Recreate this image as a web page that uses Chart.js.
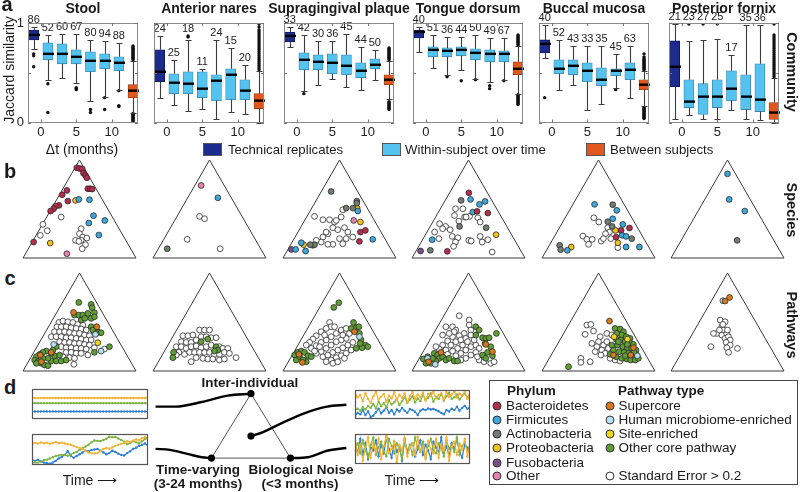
<!DOCTYPE html>
<html><head><meta charset="utf-8">
<script src="https://cdn.jsdelivr.net/npm/chart.js@4.4.1/dist/chart.umd.min.js"></script>
<style>
html,body{margin:0;padding:0;background:#fff;}
body{width:800px;height:492px;position:relative;overflow:hidden;font-family:"Liberation Sans",Arial,Helvetica,sans-serif;color:#1a1a1a;}
canvas{position:absolute;}
.t{position:absolute;white-space:nowrap;line-height:1.15;}
.c{transform:translate(-50%,-50%);}
.lm{transform:translate(0,-50%);}
.b{font-weight:bold;}
.sq{position:absolute;border:1px solid #555;box-sizing:border-box;}
.dot{position:absolute;width:9px;height:9px;border-radius:50%;border:1px solid #333;box-sizing:border-box;transform:translate(-50%,-50%);}
.legbox{position:absolute;border:1.5px solid #444;box-sizing:border-box;}
</style></head><body>
<script>
// ---------------- DATA: panel a (box plots) ----------------
const sites = ['Stool','Anterior nares','Supragingival plaque','Tongue dorsum','Buccal mucosa','Posterior fornix'];
const boxX = [-1,1,3,5,7,9,11,13];          // Δt position of each box (technical, 1..11 months, between)
const xTickVals = [0,5,10];
const yTickVals = [0,1];
// [whiskerLow, q1, median, q3, whiskerHigh]
const stoolBox = [[0.74,0.83,0.88,0.93,0.96],[0.43,0.63,0.69,0.80,0.88],[0.45,0.59,0.69,0.79,0.89],[0.40,0.59,0.66,0.73,0.89],[0.22,0.51,0.62,0.71,0.83],[0.26,0.54,0.62,0.69,0.82],[0.33,0.52,0.60,0.66,0.80],[0.10,0.25,0.32,0.38,0.62]];
const naresBox = [[0.25,0.41,0.51,0.73,0.87],[0.18,0.29,0.40,0.49,0.63],[0.12,0.29,0.39,0.51,0.83],[0.14,0.25,0.34,0.51,0.54],[0.04,0.22,0.42,0.48,0.83],[0.11,0.23,0.48,0.54,0.75],[0.09,0.23,0.32,0.43,0.58],[0.00,0.14,0.22,0.29,0.52]];
const supraBox = [[0.76,0.81,0.87,0.91,0.96],[0.32,0.53,0.63,0.70,0.88],[0.38,0.53,0.61,0.68,0.82],[0.44,0.49,0.60,0.69,0.82],[0.36,0.48,0.57,0.68,0.89],[0.33,0.45,0.52,0.60,0.76],[0.43,0.54,0.58,0.64,0.73],[0.24,0.38,0.43,0.48,0.62]];
const tongueBox = [[0.71,0.85,0.91,0.93,0.96],[0.55,0.66,0.73,0.76,0.88],[0.48,0.66,0.72,0.75,0.86],[0.53,0.67,0.73,0.76,0.86],[0.44,0.63,0.70,0.74,0.88],[0.41,0.61,0.69,0.73,0.85],[0.43,0.61,0.69,0.72,0.85],[0.29,0.48,0.54,0.61,0.77]];
const buccalBox = [[0.65,0.70,0.79,0.83,0.98],[0.33,0.49,0.54,0.63,0.83],[0.38,0.48,0.57,0.63,0.77],[0.13,0.41,0.52,0.60,0.77],[0.19,0.37,0.43,0.55,0.77],[0.35,0.47,0.52,0.54,0.69],[0.25,0.43,0.53,0.60,0.77],[0.17,0.33,0.38,0.43,0.52]];
const fornixBox = [[0.04,0.36,0.56,0.82,0.99],[0.08,0.15,0.21,0.43,0.82],[0.04,0.08,0.26,0.39,0.83],[0.04,0.15,0.26,0.43,0.84],[0.13,0.22,0.34,0.52,0.68],[0.04,0.13,0.26,0.48,0.98],[0.03,0.11,0.23,0.59,0.98],[0.00,0.03,0.10,0.20,0.45]];
// number of subjects per box
const stoolN = [86,52,60,67,80,94,88];
const naresN = [24,25,18,11,24,15,20];
const supraN = [33,42,30,36,45,44,50];
const tongueN = [40,51,36,44,50,49,67];
const buccalN = [40,52,43,33,35,45,63];
const fornixN = [21,23,27,25,17,35,36];
// outliers [Δt, similarity]
const stoolOut = [[-1,0.69],[-1,0.67],[-1,0.56],[1,0.39],[1,0.10],[5,0.35],[5,0.34],[5,0.33],[7,0.13],[7,0.10],[9,0.25],[9,0.13],[11,0.32],[11,0.17],[11,0.16]];
const stoolBetweenOut = [0.63,0.64,0.65,0.66,0.67,0.68,0.69,0.70,0.71,0.72,0.73,0.74,0.75,0.76,0.77,0.01,0.02,0.03,0.04,0.05,0.06,0.07,0.08,0.09];
const naresOut = [[3,0.86],[3,0.87]];
const naresBetweenOut = [0.53,0.55,0.57,0.59,0.61,0.63,0.65,0.67,0.69,0.71,0.73,0.75,0.77,0.79,0.81,0.83,0.85,0.87,0.89,0.91,0.93,0.96,0.99];
const supraOut = [[1,0.29]];
const supraBetweenOut = [0.63,0.64,0.65,0.66,0.67,0.68,0.69,0.70,0.71,0.72,0.73,0.74,0.75,0.13,0.14,0.15,0.16,0.17,0.18,0.19,0.20,0.21];
const tongueOut = [[3,0.46],[5,0.42],[7,0.43],[9,0.37],[9,0.34],[11,0.42]];
const tongueBetweenOut = [0.78,0.79,0.80,0.81,0.82,0.83,0.84,0.85,0.86,0.87,0.88,0.18,0.19,0.20,0.21,0.22,0.23,0.24,0.25,0.26,0.27,0.28];
const buccalOut = [[-1,0.25],[9,0.33]];
const buccalBetweenOut = [0.53,0.54,0.55,0.56,0.57,0.58,0.59,0.60,0.61,0.62,0.63,0.64,0.66,0.69,0.04,0.05,0.06,0.07,0.08,0.09,0.10,0.11,0.12,0.13,0.14,0.15];
const fornixOut = [[1,0.99],[3,0.99],[5,0.99]];
const fornixBetweenOut = [0.46,0.48,0.50,0.52,0.54,0.56,0.58,0.60,0.62,0.64,0.66,0.68,0.70,0.72,0.74,0.76,0.78,0.80,0.82,0.84,0.86,0.88,0.99];

// ---------------- DATA: panels b & c (ternary positions, 0-100 x, 0-86.6 y) ----------------
const spStool_Bacteroidetes=[[47.6,79.7],[50,79.1],[52.4,78.8],[53.5,75],[55.3,72.9],[56.5,70.9],[57.4,61.2],[59.4,61.2],[61.2,60.9],[38.8,59.7],[34.7,55.9],[39.7,50.3],[31.8,46.5],[28.8,45.9],[27.1,43.5],[24.4,41.5],[9.4,14.1]];
const spStool_Firmicutes=[[49.4,51.8],[58.8,51.5],[62.4,37.4],[58.2,30.9],[72.4,33.2],[67.1,20.3]];
const spStool_Proteobacteria=[[46.5,50.9],[24.1,13.2]];
const spStool_Other=[[38.8,3.8]];
const spStool_SE=[[17.6,29.7],[21.5,24.1],[15.3,20],[33.8,36.2],[51.5,25.9],[50,21.5],[52.9,18.5],[56.5,17.6],[46.5,15.6],[51.5,15.6],[55.3,11.8],[52.4,8.2],[49.4,14.7]];

const spNares_Other=[[42.6,64.1]];
const spNares_Firmicutes=[[57.4,53.2]];
const spNares_Actinobacteria=[[12.6,8.2]];
const spNares_SE=[[41.2,36.8],[45.6,34.7],[30.3,16.5],[59.4,8.2]];

const spSupra_Actinobacteria=[[42.6,58.8],[65.3,50.3],[65.3,48.5],[55.9,44.1],[61.8,44.1],[26.5,11.2],[27.9,11.8],[24.1,11.8]];
const spSupra_Firmicutes=[[66.2,41.5],[79.4,16.5],[16.2,13.5],[11.2,7.6],[20,6.2]];
const spSupra_Proteobacteria=[[65.6,44.1],[68.5,31.8],[18.2,11.8]];
const spSupra_Other=[[62.6,33.2]];
const spSupra_Bacteroidetes=[[68.5,22.9],[72.9,24.4],[67.6,14.7]];
const spSupra_Fusobacteria=[[7.4,7.6]];
const spSupra_SE=[[27.9,36.8],[35.3,33.8],[41.2,33.8],[52.9,42.6],[51.5,36.2],[45.6,31.8],[44.1,26.8],[48.5,25],[54.4,26.8],[57.4,22.9],[50,17.1],[55.9,17.1],[35.3,18.5],[39.7,21.5],[33.8,14.1],[44.1,12.1],[39.7,12.1],[52.9,12.6],[61.8,18.5],[29.4,15.6],[47.1,33.2],[38.2,22.9]];

const spTongue_Bacteroidetes=[[50.3,57.6],[57.6,41.2],[67.1,39.7],[31.2,5.9]];
const spTongue_Firmicutes=[[51.8,51.8],[59.7,47.4],[64.7,50],[53.8,40.6],[17.9,16.2]];
const spTongue_Actinobacteria=[[43.5,50.9],[42.1,27.9],[65.6,26.8],[16.2,6.8]];
const spTongue_Proteobacteria=[[74.4,20.6]];
const spTongue_Fusobacteria=[[7.6,6.2]];
const spTongue_SE=[[38.5,43.5],[45,43.5],[37.6,37.6],[46.5,36.2],[50.9,36.8],[58.2,35.6],[60.3,31.8],[24.4,30.3],[29.7,27.9],[33.8,25],[27.1,25.9],[20,22.9],[23.8,17.1],[35.6,19.1],[40.6,17.9],[38.5,14.1],[36.8,10.3],[50.3,15.6],[52.4,15],[60.3,19.1],[62.1,14.1],[67.1,16.2],[70.9,5.3],[47.9,36.2],[41.5,32.6]];

const spBuccal_Firmicutes=[[46.5,47.4],[66.2,42.1],[62.6,34.7],[71.5,29.7],[70.9,20],[74.4,19.1],[74.4,9.7],[86.2,9.7],[22.4,6.8]];
const spBuccal_Actinobacteria=[[62.6,47.1],[62.1,27.9],[79.4,17.1],[15.6,11.2],[16.5,7.4],[58.2,32.1]];
const spBuccal_Bacteroidetes=[[77.4,26.5],[70,24.4],[65.6,18.5]];
const spBuccal_Proteobacteria=[[65,24.4],[67.1,13.5],[25.9,9.7]];
const spBuccal_SE=[[45.9,35.6],[50.3,31.8],[58.2,26.8],[59.7,22.9],[56.2,21.5],[36.2,19.4],[39.7,16.5],[44.4,16.5],[41.2,12.1],[52.4,15],[54.4,17.1],[60.9,17.1],[67.1,9.1]];

const spFornix_Firmicutes=[[50,74.4],[51.5,51.8],[65.3,41.5]];
const spFornix_Actinobacteria=[[58.5,15.6]];

const pwStool_Core=[[49.4,60.6],[60.3,58.8],[61.2,55.9],[45.6,49.4],[49.4,49.4],[52.9,49.4],[57.4,50.9],[63.2,51.5],[51.5,45],[54.7,46.5],[60.3,46.5],[63.2,47.9],[60.3,39.1],[61.8,36.2],[66.2,34.7],[69.1,33.8],[64.7,33.2],[76.5,21.5],[63.2,16.5],[29.4,21.5],[26.5,18.5],[20.6,17.6],[17.6,16.5],[14.7,14.7],[11.8,12.6],[10.3,9.7],[13.2,8.2],[16.2,6.8],[19.1,5.3],[22.1,4.7],[25,8.8],[29.4,8.8],[33.8,8.8],[38.2,9.7],[22.1,11.2],[27.9,13.5],[32.4,14.1],[17.6,11.2],[11.8,6.8],[25,15.6]];
const pwStool_Supercore=[[44.7,51.8],[65.3,39.1],[15.3,14.1],[16.2,8.2],[25,16.5]];
const pwStool_Human=[[27.1,23.5],[69.1,17.6],[64.1,32.4]];
const pwStool_Site=[[66.2,25]];
const pwStool_SE=[[31.8,42.9],[35.3,44.1],[39.7,43.5],[44.1,42.9],[48.5,41.2],[52.9,40.6],[30,39.1],[33.8,39.1],[38.2,39.1],[42.6,38.2],[47.1,37.6],[51.5,37.1],[55.9,36.2],[27.9,34.7],[32.4,34.7],[36.8,34.7],[41.2,34.1],[45.6,33.2],[50,33.2],[54.4,31.8],[58.8,31.2],[25,30.3],[29.4,30.3],[33.8,30.3],[38.2,29.4],[42.6,29.4],[47.1,28.8],[51.5,28.2],[55.9,27.4],[60.3,27.4],[32.4,25.9],[36.8,25.3],[41.2,25.3],[45.6,24.4],[50,24.4],[54.4,23.5],[58.8,22.9],[33.8,21.5],[38.2,20.6],[42.6,20.6],[47.1,20],[51.5,20],[55.9,19.4],[38.2,16.5],[42.6,16.5],[47.1,15.6],[51.5,15.6],[35.3,12.6],[41.2,11.8],[45.6,11.2],[57.4,14.1],[63.2,20.6],[45,5.9],[72.1,19.4]];

const pwNares_Core=[[48.5,28.2],[55.9,21.5],[57.4,18.5],[18.2,16.5],[17.6,11.8],[54.4,17.6],[42.6,25.9]];
const pwNares_SE=[[26.5,31.2],[30.9,31.2],[35.3,31.8],[41.2,36.2],[45.6,36.2],[50,36.2],[25,25.9],[29.4,25.3],[33.8,25.3],[38.2,27.4],[42.6,30.3],[47.1,30.3],[51.5,29.4],[55.9,29.4],[20.6,21.5],[25,21.5],[29.4,20],[33.8,21.5],[38.2,22.1],[42.6,20.6],[47.1,21.5],[51.5,22.9],[58.8,21.5],[61.8,20],[66.2,20],[22.9,16.5],[27.9,14.7],[32.4,16.5],[36.8,16.5],[41.2,16.5],[45.6,16.5],[50,16.5],[54.4,14.7],[58.8,14.7],[63.2,16.5],[67.6,15.6],[44.1,11.2],[48.5,10.6],[52.9,10.6],[58.8,9.7],[63.2,10.6],[73.5,11.8],[33.8,8.2],[20.6,14.1],[38.2,11.8]];

const pwSupra_Core=[[45,56.2],[49.4,60.3],[62.4,42.9],[64.7,38.2],[67.1,39.1],[67.6,33.2],[69.1,27.4],[72.9,22.9],[75,21.5],[70,20.6],[64.7,20],[10.3,14.1],[13.2,16.5],[16.2,17.6],[19.1,16.5],[22.1,13.5],[11.8,9.7],[14.7,12.6],[20.6,8.2],[17.6,9.7],[25,12.6],[68.2,24.4],[60.3,37.6]];
const pwSupra_Supercore=[[63.2,34.7],[14.1,14.7],[17.1,7.6]];
const pwSupra_Human=[[67.6,30.3]];
const pwSupra_SE=[[41.2,42.9],[42.6,39.1],[38.2,37.6],[33.8,34.7],[29.4,31.2],[26.5,28.2],[23.5,25.3],[20.6,22.9],[25,20],[29.4,22.4],[33.8,25.3],[38.2,27.4],[42.6,30.3],[47.1,33.2],[51.5,36.2],[55.9,37.6],[58.8,33.2],[55.9,28.8],[51.5,27.4],[47.1,25.9],[42.6,22.9],[38.2,20],[33.8,17.1],[29.4,15.6],[35.3,12.6],[39.7,14.1],[44.1,16.5],[48.5,18.5],[52.9,20.6],[57.4,22.9],[61.8,25.3],[60.3,18.5],[55.9,15.6],[51.5,13.5],[47.1,11.8],[42.6,9.7],[38.2,8.2],[44.1,6.8],[48.5,8.2],[54.4,11.2],[32.4,21.5],[27.9,17.6],[36.8,31.8],[45.6,39.1],[52.9,31.8]];

const pwTongue_Core=[[56.5,39.1],[59.4,36.2],[56.5,31.8],[62.4,29.4],[65.3,28.8],[68.2,29.4],[74.7,33.2],[64.7,24.4],[69.7,21.5],[66.8,16.5],[62.4,14.1],[65.3,11.2],[71.2,13.5],[10,10.6],[13.8,12.6],[15.3,8.8],[19.7,15.6],[22.6,14.1],[24.1,11.2],[27.1,12.6],[30,9.7],[32.9,11.2],[37.4,8.8],[40.3,8.8],[12.4,6.8],[16.8,6.8],[21.2,8.8],[18.2,11.2]];
const pwTongue_Supercore=[[65.3,23.5],[14.7,8.2],[25.6,16.5],[71.2,17.1]];
const pwTongue_Human=[[20.6,5.9],[13.8,11.2]];
const pwTongue_SE=[[41.8,48.8],[30,39.1],[35.9,39.1],[38.8,36.2],[50.6,45],[50.6,40.6],[52.1,36.2],[46.2,33.2],[41.8,31.2],[35.9,30.3],[31.5,26.5],[27.1,22.9],[24.1,19.4],[21.2,21.5],[30,18.5],[34.4,22.9],[38.8,25.9],[43.2,27.4],[47.6,28.8],[52.1,31.8],[44.7,22.9],[40.3,20],[35.9,17.6],[31.5,14.7],[47.6,18.5],[43.2,15.6],[38.8,13.5],[52.1,21.5],[56.5,22.9],[59.4,20],[56.5,16.5],[52.1,14.1],[47.6,11.2],[43.2,9.7],[59.4,9.7],[63.8,8.2],[69.7,6.8],[72.6,8.2],[57.9,12.6],[49.1,25.9],[55,27.4],[37.4,34.7],[32.9,33.2],[27.1,31.8]];

const pwBuccal_Core=[[64.7,37.6],[69.1,37.1],[72.1,34.7],[66.2,33.2],[70.6,31.8],[74.4,30.3],[77.9,28.8],[65.6,28.2],[69.7,27.4],[73.5,25.9],[77.4,25.3],[80.9,23.5],[66.8,22.9],[71.5,21.5],[75.6,20.6],[79.4,20],[83.2,18.5],[63.2,18.5],[68.5,17.1],[72.6,16.5],[76.5,15.6],[80.3,14.7],[83.8,14.1],[65.6,12.6],[70.6,11.2],[75,10.6],[78.5,9.7],[82.4,9.7],[85.3,11.2],[73.5,13.5],[61.8,22.9],[67.6,25.9],[75.6,23.5],[81.5,16.5],[60.3,14.7],[23.5,3.8]];
const pwBuccal_Supercore=[[59.7,44.1],[63.2,14.1],[80.9,20.6],[78.5,14.1]];
const pwBuccal_Site=[[63.8,30.3],[75.6,28.2]];
const pwBuccal_Human=[[84.4,13.5]];
const pwBuccal_SE=[[39.7,40.6],[43.2,41.2],[38.2,32.4],[45.6,35.3],[44.1,24.4],[51.5,30.3],[57.4,33.2],[61.8,31.8],[50,25.9],[54.4,22.9],[58.8,20],[48.5,21.5],[52.9,18.5],[55.9,15.6],[60.3,11.2],[64.7,9.7],[69.1,8.8],[57.4,25.9],[47.1,17.1],[34.4,11.2],[34.4,7.6],[42.6,8.2],[52.1,14.1]];

const pwFornix_Supercore=[[47.9,61.8],[51.8,65]];
const pwFornix_Human=[[45.9,62.1]];
const pwFornix_SE=[[43.5,45],[47.9,43.5],[45,39.1],[46.5,36.2],[40.6,33.2],[45,31.8],[49.4,33.2],[37.6,33.2],[47.9,28.8],[50.9,30.3],[52.4,27.4],[48.8,25.3],[52.4,22.9],[49.4,20.6],[50.9,16.5],[35.3,21.5],[58.8,20],[45.9,41.2],[42.9,36.2],[50,36.2]];

// ---------------- DATA: panel d (illustrative time series, 0-1) ----------------
const stableOrange=[0.71,0.71,0.71,0.71,0.71,0.71,0.71,0.71,0.71,0.71,0.71,0.71,0.71,0.71,0.71,0.71,0.71,0.71,0.71,0.71,0.71,0.71,0.71,0.71,0.71,0.71,0.71,0.71,0.71,0.71,0.71,0.71,0.71,0.71,0.71,0.71,0.71,0.71,0.71,0.71];
const stableGreen=[0.53,0.53,0.53,0.53,0.53,0.53,0.53,0.53,0.53,0.53,0.53,0.53,0.53,0.53,0.53,0.53,0.53,0.53,0.53,0.53,0.53,0.53,0.53,0.53,0.53,0.53,0.53,0.53,0.53,0.53,0.53,0.53,0.53,0.53,0.53,0.53,0.53,0.53,0.53,0.53];
const stableBlue=[0.24,0.24,0.24,0.24,0.24,0.24,0.24,0.24,0.24,0.24,0.24,0.24,0.24,0.24,0.24,0.24,0.24,0.24,0.24,0.24,0.24,0.24,0.24,0.24,0.24,0.24,0.24,0.24,0.24,0.24,0.24,0.24,0.24,0.24,0.24,0.24,0.24,0.24,0.24,0.24];
const driftOrange=[0.68,0.72,0.70,0.74,0.71,0.73,0.69,0.72,0.75,0.71,0.73,0.70,0.68,0.66,0.62,0.58,0.55,0.52,0.45,0.40,0.38,0.37,0.38,0.45,0.52,0.55,0.53,0.57,0.62,0.66,0.69,0.72,0.78,0.75,0.80,0.84,0.80,0.88,0.92,0.86];
const driftGreen=[0.05,0.07,0.06,0.10,0.14,0.16,0.20,0.24,0.28,0.30,0.32,0.31,0.29,0.33,0.38,0.42,0.48,0.55,0.60,0.66,0.74,0.80,0.79,0.78,0.82,0.86,0.93,0.91,0.92,0.87,0.82,0.76,0.68,0.72,0.78,0.74,0.70,0.78,0.85,0.88];
const driftBlue=[0.15,0.12,0.16,0.10,0.06,0.04,0.02,0.06,0.12,0.20,0.25,0.32,0.44,0.30,0.22,0.28,0.34,0.40,0.46,0.44,0.48,0.50,0.52,0.46,0.40,0.34,0.38,0.46,0.42,0.36,0.32,0.30,0.38,0.44,0.52,0.56,0.62,0.66,0.70,0.62];
const mixOrange=[0.92,0.75,0.85,0.62,0.90,0.70,0.55,0.80,0.95,0.68,0.78,0.88,0.60,0.82,0.72,0.93,0.66,0.85,0.74,0.90,0.58,0.80,0.95,0.70,0.86,0.76,0.92,0.64,0.88,0.80,0.96,0.72,0.84,0.90,0.68,0.94,0.78,0.86,0.97,0.74,0.90,0.82,0.95,0.70,0.92];
const mixGreen=[0.30,0.35,0.28,0.40,0.32,0.45,0.38,0.52,0.36,0.60,0.44,0.55,0.40,0.65,0.50,0.58,0.70,0.48,0.62,0.75,0.55,0.68,0.80,0.58,0.72,0.62,0.85,0.66,0.74,0.90,0.60,0.78,0.70,0.88,0.64,0.80,0.92,0.70,0.76,0.86,0.68,0.82,0.90,0.74,0.84];
const mixBlue=[0.08,0.20,0.15,0.30,0.12,0.25,0.05,0.10,0.22,0.35,0.18,0.28,0.40,0.20,0.30,0.15,0.32,0.25,0.38,0.28,0.20,0.34,0.30,0.24,0.12,0.28,0.33,0.30,0.36,0.32,0.34,0.30,0.26,0.20,0.15,0.30,0.25,0.35,0.30,0.42,0.28,0.38,0.45,0.35,0.40];
const noiseOrange=[0.80,0.30,0.65,0.10,0.55,0.90,0.20,0.70,0.40,0.85,0.15,0.60,0.95,0.35,0.50,0.75,0.05,0.65,0.45,0.88,0.25,0.55,0.70,0.30,0.92,0.40,0.60,0.15,0.78,0.50,0.35,0.85,0.20,0.65,0.45,0.90,0.10,0.58,0.75,0.30,0.68,0.48,0.85,0.25,0.60];
const noiseGreen=[0.50,0.70,0.35,0.80,0.45,0.20,0.65,0.90,0.30,0.55,0.75,0.40,0.25,0.85,0.60,0.35,0.70,0.50,0.15,0.80,0.45,0.65,0.30,0.90,0.55,0.40,0.75,0.20,0.60,0.85,0.45,0.35,0.70,0.55,0.25,0.80,0.50,0.65,0.40,0.90,0.30,0.60,0.75,0.45,0.55];
const noiseBlue=[0.60,0.40,0.85,0.30,0.70,0.15,0.55,0.45,0.80,0.25,0.65,0.35,0.90,0.50,0.20,0.75,0.40,0.60,0.10,0.85,0.35,0.55,0.70,0.25,0.50,0.80,0.30,0.65,0.45,0.15,0.75,0.55,0.40,0.90,0.35,0.60,0.25,0.70,0.50,0.85,0.40,0.20,0.65,0.55,0.45];
// schematic (variance triangle) in its own 220x100 diagram units, y downward
const schemTriangle=[[111,16],[70,86],[152,86],[111,16]];
const schemVertices=[[111,16],[70,86],[152,86],[111,62]];
const schemCurveA=[[12,30],[33,30],[60,25],[87,18],[111,16]];
const schemCurveB=[[12,76],[27,77],[47,82],[60,85],[70,86]];
const schemCurveC=[[111,62],[123,58],[143,48],[167,37],[190,30],[210,28]];
const schemCurveD=[[152,86],[170,85],[190,78],[210,75]];

// ---------------- STYLE ----------------
const FONT='"Liberation Sans", Arial, Helvetica, sans-serif';
Chart.defaults.font.family=FONT;
const C_TECH='#1c2c8c', C_WITHIN='#55c3ef', C_BETWEEN='#e2571d';
const boxFill=[C_TECH,C_WITHIN,C_WITHIN,C_WITHIN,C_WITHIN,C_WITHIN,C_WITHIN,C_BETWEEN];
const boxEdge=['#0c1656','#3a88b4','#3a88b4','#3a88b4','#3a88b4','#3a88b4','#3a88b4','#9a3a10'];
const COL={Bacteroidetes:'#b52d4c',Firmicutes:'#3ca8de',Actinobacteria:'#6f7e6f',Proteobacteria:'#f2c21f',Fusobacteria:'#7a4f88',Other:'#e681b3',
 Supercore:'#d9791c',Human:'#b7e0f3',Site:'#f3d51c',Core:'#5f9f34',SE:'#ffffff'};
const lineCols=['#f5b133','#7db443','#2a7fd5'];

function mkCanvas(l,t,w,h){const c=document.createElement('canvas');c.width=w;c.height=h;c.style.left=l+'px';c.style.top=t+'px';c.style.width=w+'px';c.style.height=h+'px';document.body.appendChild(c);return c;}
function txt(s,x,y,cls,size,extra){const d=document.createElement('div');d.className='t '+(cls||'');d.textContent=s;d.style.left=x+'px';d.style.top=y+'px';d.style.fontSize=size+'px';if(extra)Object.assign(d.style,extra);document.body.appendChild(d);return d;}
const baseOpts={responsive:false,animation:false,events:[],plugins:{legend:{display:false},tooltip:{enabled:false}}};

// ---------------- PANEL a ----------------
const boxPlugin={id:'boxplot',afterDatasetsDraw(chart,args,o){
  const ctx=chart.ctx,a=chart.chartArea,x=chart.scales.x,y=chart.scales.y;
  ctx.save();
  o.stats.forEach((s,k)=>{
    const px=Math.round(x.getPixelForValue(boxX[k]))+0.5;
    const yHi=Math.round(y.getPixelForValue(s[4]))+0.5, yQ3=y.getPixelForValue(s[3]);
    const yQ1=y.getPixelForValue(s[1]), yLo=Math.round(y.getPixelForValue(s[0]))+0.5;
    ctx.strokeStyle='#3c3c3c';ctx.lineWidth=1.1;ctx.beginPath();
    ctx.moveTo(px,yHi);ctx.lineTo(px,yQ3);
    ctx.moveTo(px,yQ1);ctx.lineTo(px,yLo);
    ctx.moveTo(px-3,yHi);ctx.lineTo(px+3,yHi);
    ctx.moveTo(px-3,yLo);ctx.lineTo(px+3,yLo);
    ctx.stroke();
    ctx.strokeStyle='#000';ctx.lineWidth=2.4;ctx.beginPath();
    ctx.moveTo(px-5.5,y.getPixelForValue(s[2]));ctx.lineTo(px+5.5,y.getPixelForValue(s[2]));ctx.stroke();
  });
  // counts
  ctx.fillStyle='#222';ctx.font='11px '+FONT;ctx.textAlign='center';ctx.textBaseline='middle';
  o.ns.forEach((n,k)=>{
    let top=o.stats[k][4];
    o.outs.forEach(p=>{if(p[0]===boxX[k]&&p[1]>top)top=p[1];});
    const py=Math.max(a.top-6,y.getPixelForValue(top)-7);
    ctx.fillText(String(n),x.getPixelForValue(boxX[k]),py);
  });
  // frame and inward ticks
  ctx.strokeStyle='#8a8a8a';ctx.lineWidth=1;
  ctx.strokeRect(Math.round(a.left)+0.5,Math.round(a.top)+0.5,Math.round(a.width)-1,Math.round(a.height)-1);
  ctx.strokeStyle='#777';ctx.beginPath();
  xTickVals.forEach(v=>{const px=Math.round(x.getPixelForValue(v))+0.5;ctx.moveTo(px,a.bottom);ctx.lineTo(px,a.bottom-3);ctx.moveTo(px,a.top);ctx.lineTo(px,a.top+3);});
  [0,0.5,1].forEach(v=>{const py=Math.round(y.getPixelForValue(v))+0.5;ctx.moveTo(a.left,py);ctx.lineTo(a.left+3,py);ctx.moveTo(a.right,py);ctx.lineTo(a.right-3,py);});
  ctx.stroke();ctx.restore();
}};
const boxStats=[stoolBox,naresBox,supraBox,tongueBox,buccalBox,fornixBox];
const boxN=[stoolN,naresN,supraN,tongueN,buccalN,fornixN];
const boxOut=[stoolOut,naresOut,supraOut,tongueOut,buccalOut,fornixOut];
const boxBetweenOut=[stoolBetweenOut,naresBetweenOut,supraBetweenOut,tongueBetweenOut,buccalBetweenOut,fornixBetweenOut];
const frameLefts=[28,154,284,413,539,669], FW=110, FTOP=23, FBOT=122.5;
sites.forEach((name,i)=>{
  const L=frameLefts[i];
  const cv=mkCanvas(L-28,0,FW+34,142);
  const stats=boxStats[i];
  const outs=boxOut[i].concat(boxBetweenOut[i].map(v=>[13,v]));
  new Chart(cv,{type:'bar',
    data:{datasets:[
      {type:'scatter',data:outs.map(p=>({x:p[0],y:p[1]})),pointRadius:1.7,pointBackgroundColor:'#111',pointBorderWidth:0},
      {type:'bar',data:boxX.map((xv,k)=>({x:xv,y:[stats[k][1],stats[k][3]]})),backgroundColor:boxFill,borderColor:boxEdge,borderWidth:0.8,borderSkipped:false,barThickness:10}
    ]},
    options:Object.assign({},baseOpts,{
      layout:{padding:{top:FTOP,right:6,left:0,bottom:0}},
      scales:{
        x:{type:'linear',offset:false,min:-1.8,max:13.7,grid:{display:false,drawTicks:false,offset:false},border:{display:false},
           afterBuildTicks:s=>{s.ticks=xTickVals.map(v=>({value:v}));},
           ticks:{font:{size:13},color:'#222',padding:2,maxRotation:0,autoSkip:false,callback:v=>String(v)},
           afterFit:s=>{s.height=142-FBOT;}},
        y:{type:'linear',min:0,max:1,grid:{display:false,drawTicks:false},border:{display:false},
           afterBuildTicks:s=>{s.ticks=i===0?yTickVals.map(v=>({value:v})):[];},
           ticks:{font:{size:13},color:'#222',padding:4,callback:v=>String(v)},
           afterFit:s=>{s.width=28;}}
      },
      plugins:{legend:{display:false},tooltip:{enabled:false},boxplot:{stats:stats,ns:boxN[i],outs:outs}}
    }),
    plugins:[boxPlugin]});
  txt(name,L+FW/2,7.5,'c b',14);
});
txt('Jaccard similarity',8.5,70,'',14,{transform:'translate(-50%,-50%) rotate(-90deg)'});
txt('Δt (months)',82,149,'c',14);
// legend row
[[203,C_TECH,'Technical replicates',228],[382,C_WITHIN,'Within-subject over time',405],[586,C_BETWEEN,'Between subjects',610]].forEach(([x0,c,label,tx])=>{
  const s=document.createElement('div');s.className='sq';Object.assign(s.style,{left:x0+'px',top:'143px',width:'19px',height:'13px',background:c});document.body.appendChild(s);
  txt(label,tx,149.5,'lm',13.2);
});

// ---------------- PANELS b & c ----------------
const triLefts=[23,153,283,412,542,671], TW=113, TH=98;
function ternary(i,apexY,groups){
  const pad=6;
  const cv=mkCanvas(triLefts[i]-pad,apexY-pad,TW+2*pad,TH+2*pad);
  const ds=groups.map(([pts,col])=>({data:pts.map(p=>({x:p[0],y:p[1]})),pointRadius:2.9,pointBackgroundColor:col,pointBorderColor:'#2a2a2a',pointBorderWidth:0.8,showLine:false}));
  ds.push({data:[{x:0,y:0},{x:50,y:86.6},{x:100,y:0},{x:0,y:0}],showLine:true,borderColor:'#3a3a3a',borderWidth:1,pointRadius:0,tension:0});
  new Chart(cv,{type:'scatter',data:{datasets:ds},options:Object.assign({},baseOpts,{
    layout:{padding:pad},clip:false,
    scales:{x:{display:false,min:0,max:100},y:{display:false,min:0,max:86.6}}})});
}
const speciesGroups=[
 [[spStool_Bacteroidetes,COL.Bacteroidetes],[spStool_Firmicutes,COL.Firmicutes],[spStool_Proteobacteria,COL.Proteobacteria],[spStool_Other,COL.Other],[spStool_SE,COL.SE]],
 [[spNares_Other,COL.Other],[spNares_Firmicutes,COL.Firmicutes],[spNares_Actinobacteria,COL.Actinobacteria],[spNares_SE,COL.SE]],
 [[spSupra_Actinobacteria,COL.Actinobacteria],[spSupra_Firmicutes,COL.Firmicutes],[spSupra_Proteobacteria,COL.Proteobacteria],[spSupra_Other,COL.Other],[spSupra_Bacteroidetes,COL.Bacteroidetes],[spSupra_Fusobacteria,COL.Fusobacteria],[spSupra_SE,COL.SE]],
 [[spTongue_Bacteroidetes,COL.Bacteroidetes],[spTongue_Firmicutes,COL.Firmicutes],[spTongue_Actinobacteria,COL.Actinobacteria],[spTongue_Proteobacteria,COL.Proteobacteria],[spTongue_Fusobacteria,COL.Fusobacteria],[spTongue_SE,COL.SE]],
 [[spBuccal_Firmicutes,COL.Firmicutes],[spBuccal_Actinobacteria,COL.Actinobacteria],[spBuccal_Bacteroidetes,COL.Bacteroidetes],[spBuccal_Proteobacteria,COL.Proteobacteria],[spBuccal_SE,COL.SE]],
 [[spFornix_Firmicutes,COL.Firmicutes],[spFornix_Actinobacteria,COL.Actinobacteria]]
];
const pathwayGroups=[
 [[pwStool_Supercore,COL.Supercore],[pwStool_Human,COL.Human],[pwStool_Site,COL.Site],[pwStool_Core,COL.Core],[pwStool_SE,COL.SE]],
 [[pwNares_Core,COL.Core],[pwNares_SE,COL.SE]],
 [[pwSupra_Supercore,COL.Supercore],[pwSupra_Human,COL.Human],[pwSupra_Core,COL.Core],[pwSupra_SE,COL.SE]],
 [[pwTongue_Supercore,COL.Supercore],[pwTongue_Human,COL.Human],[pwTongue_Core,COL.Core],[pwTongue_SE,COL.SE]],
 [[pwBuccal_Supercore,COL.Supercore],[pwBuccal_Site,COL.Site],[pwBuccal_Human,COL.Human],[pwBuccal_Core,COL.Core],[pwBuccal_SE,COL.SE]],
 [[pwFornix_Supercore,COL.Supercore],[pwFornix_Human,COL.Human],[pwFornix_SE,COL.SE]]
];
speciesGroups.forEach((g,i)=>ternary(i,160,g));
pathwayGroups.forEach((g,i)=>ternary(i,273,g));

// ---------------- PANEL d ----------------
const framePlugin={id:'frame',afterDraw(chart){const c=chart.ctx,a=chart.chartArea;c.save();c.strokeStyle='#555';c.lineWidth=1.2;c.strokeRect(a.left+0.5,a.top+0.5,a.width-1,a.height-1);c.restore();}};
function lineChart(l,t,w,h,series){
  const cv=mkCanvas(l,t,w,h);
  new Chart(cv,{type:'line',data:{datasets:series.map((s,k)=>({data:s.map((v,j)=>({x:j,y:v})),borderColor:lineCols[k],backgroundColor:lineCols[k],borderWidth:1.2,pointRadius:1.2,pointBorderWidth:0,tension:0}))},
    options:Object.assign({},baseOpts,{layout:{padding:0},scales:{x:{type:'linear',display:false,min:0,max:series[0].length-1},y:{display:false,min:-0.02,max:1.02}}}),
    plugins:[framePlugin]});
}
lineChart(28,385,124,38,[stableOrange,stableGreen,stableBlue]);
lineChart(28,430,124,39,[driftOrange,driftGreen,driftBlue]);
lineChart(351,386,123,37,[mixOrange,mixGreen,mixBlue]);
lineChart(351,430,123,38,[noiseOrange,noiseGreen,noiseBlue]);
(function(){
  const cv=mkCanvas(140,375,220,100);
  const toXY=a=>a.map(p=>({x:p[0],y:p[1]}));
  const curve=d=>({data:toXY(d),showLine:true,borderColor:'#000',borderWidth:2.4,pointRadius:0,tension:0.4,cubicInterpolationMode:'monotone'});
  new Chart(cv,{type:'scatter',data:{datasets:[
    {data:toXY(schemVertices),pointRadius:3.6,pointBackgroundColor:'#000',pointBorderWidth:0},
    curve(schemCurveA),curve(schemCurveB),curve(schemCurveC),curve(schemCurveD),
    {data:toXY(schemTriangle),showLine:true,borderColor:'#555',borderWidth:1,pointRadius:0,tension:0}
  ]},options:Object.assign({},baseOpts,{layout:{padding:0},clip:false,scales:{x:{display:false,min:0,max:220},y:{display:false,min:0,max:100,reverse:true}}})});
})();
txt('Inter-individual',250,383,'c b',13.5);
txt('Time-varying',198,469.5,'c b',13.5);
txt('(3-24 months)',198,484,'c b',13.5);
txt('Biological Noise',301,469.5,'c b',13.5);
txt('(<3 months)',300,484,'c b',13.5);
txt('Time ⟶',90,480,'c',14);
txt('Time ⟶',412,480,'c',14);

// legend box
(function(){
  const b=document.createElement('div');b.className='legbox';Object.assign(b.style,{left:'489px',top:'380px',width:'309px',height:'105px'});document.body.appendChild(b);
  txt('Phylum',507,391,'lm b',13.5);
  txt('Pathway type',618,391,'lm b',13.5);
  const rows=[406,419.5,434,448,462.5,476];
  const phyla=[['Bacteroidetes',COL.Bacteroidetes],['Firmicutes',COL.Firmicutes],['Actinobacteria',COL.Actinobacteria],['Proteobacteria',COL.Proteobacteria],['Fusobacteria',COL.Fusobacteria],['Other',COL.Other]];
  const ptypes=[['Supercore',COL.Supercore,0],['Human microbiome-enriched',COL.Human,1],['Site-enriched',COL.Site,2],['Other core pathway',COL.Core,3],['Standard Error > 0.2',COL.SE,5]];
  function dot(x,y,c){const d=document.createElement('div');d.className='dot';Object.assign(d.style,{left:x+'px',top:y+'px',background:c});document.body.appendChild(d);}
  phyla.forEach(([n,c],k)=>{dot(497,rows[k],c);txt(n,506,rows[k],'lm',13.5);});
  ptypes.forEach(([n,c,k])=>{dot(610,rows[k],c);txt(n,618.5,rows[k],'lm',13.5);});
})();

// panel letters and row labels
txt('a',7,4,'c b',20);
txt('b',10,171,'c b',20);
txt('c',10,278,'c b',20);
txt('d',10,387,'c b',20);
[['Community',72],['Species',210],['Pathways',325]].forEach(([s,y])=>{txt(s,792,y,'b',14.5,{writingMode:'vertical-rl',transform:'translate(-50%,-50%)'});});
</script>
</body></html>
